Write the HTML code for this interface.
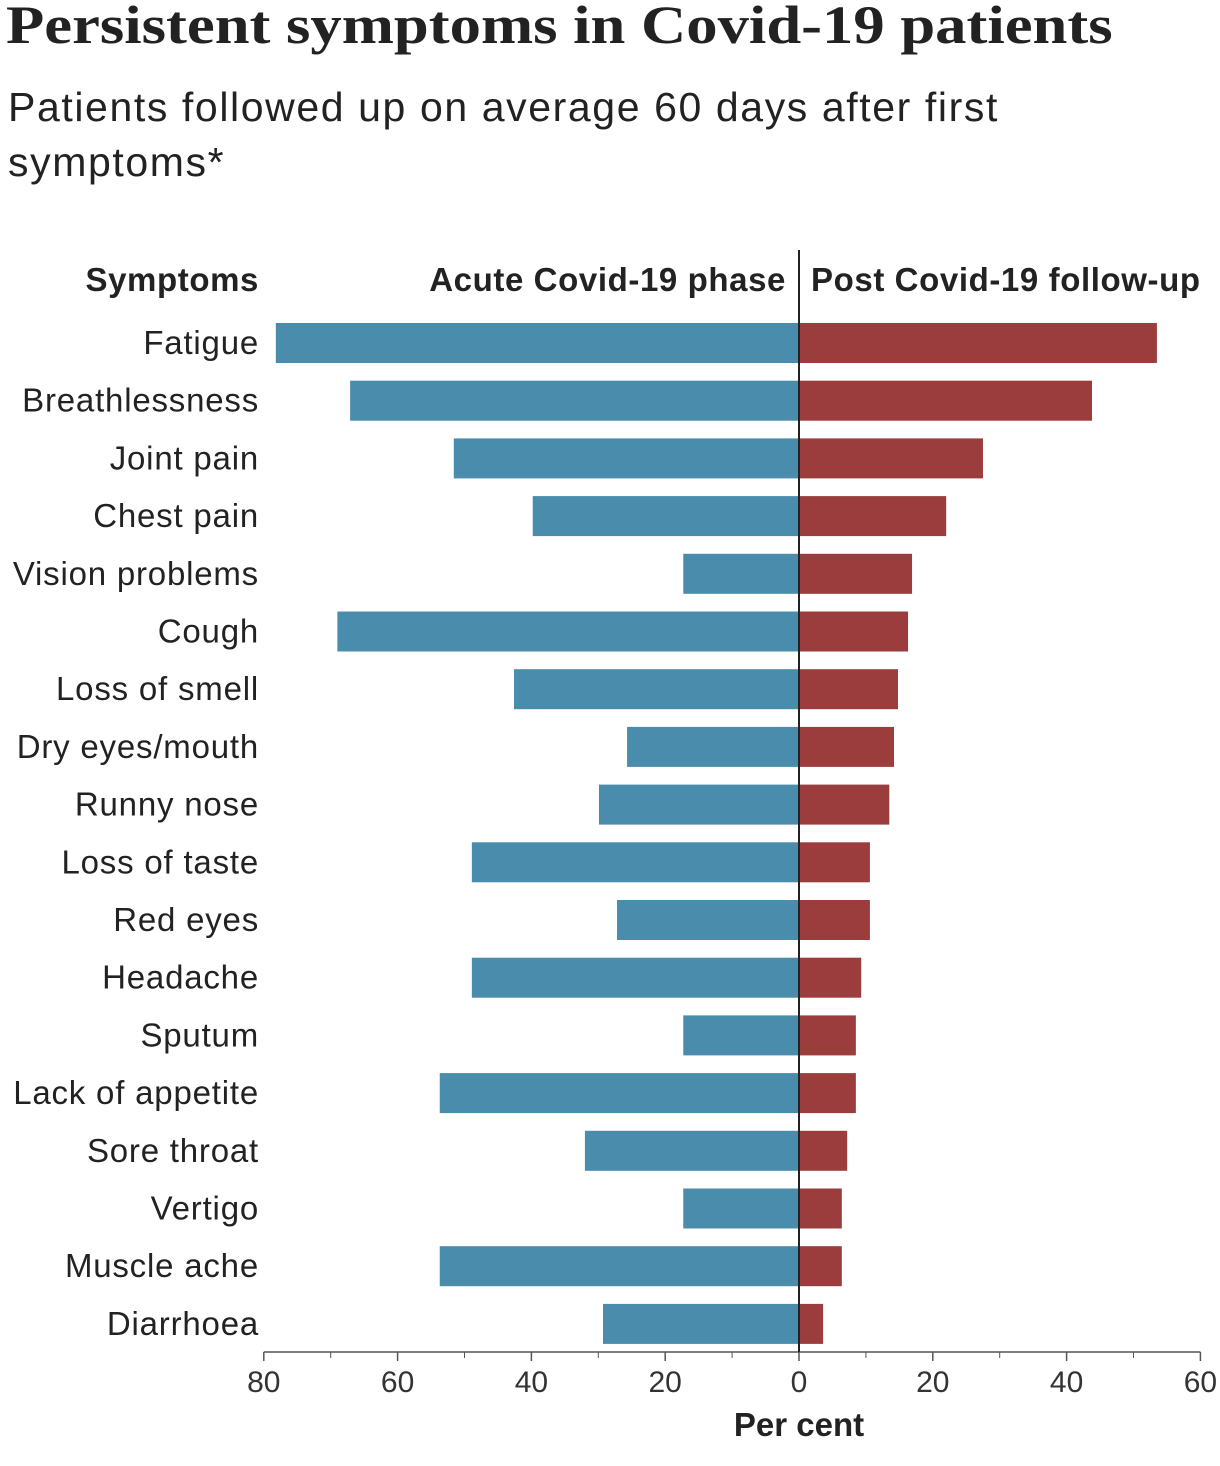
<!DOCTYPE html>
<html><head><meta charset="utf-8">
<style>
body{margin:0;background:#fff;width:1220px;height:1466px;overflow:hidden;font-family:"Liberation Sans",sans-serif;color:#222}
#title{position:absolute;left:6px;top:-6px;font-family:"Liberation Serif",serif;font-weight:bold;font-size:54px;color:#222;margin:0;white-space:nowrap;transform-origin:0 0;transform:scaleX(1.16)}
#subtitle{position:absolute;left:8px;top:80px;font-size:41px;letter-spacing:1.6px;line-height:55px;color:#222;width:1040px;margin:0}
svg{position:absolute;left:0;top:0}
</style></head><body>
<h1 id="title">Persistent symptoms in Covid-19 patients</h1>
<p id="subtitle">Patients followed up on average 60 days after first symptoms*</p>
<svg id="chart" width="1220" height="1466"></svg>
<script>
const categories=["Fatigue","Breathlessness","Joint pain","Chest pain","Vision problems","Cough","Loss of smell","Dry eyes/mouth","Runny nose","Loss of taste","Red eyes","Headache","Sputum","Lack of appetite","Sore throat","Vertigo","Muscle ache","Diarrhoea"];
const acute=[78.2,67.1,51.6,39.8,17.3,69,42.6,25.7,29.9,48.9,27.2,48.9,17.3,53.7,32,17.3,53.7,29.3];
const post=[53.5,43.8,27.5,22,16.9,16.3,14.8,14.2,13.5,10.6,10.6,9.3,8.5,8.5,7.2,6.4,6.4,3.6];
const tickVals=[-80,-60,-40,-20,0,20,40,60];
const tickLabels=["80","60","40","20","0","20","40","60"];
const minorTicks=[-70,-50,-30,-10,10,30,50];
const svg=document.getElementById('chart');
const NS="http://www.w3.org/2000/svg";
const x0=799,scale=6.69;
const xs=v=>x0+v*scale;
const ys=i=>343+i*57.7;
const bh=40;
function mk(t,a,txt){const e=document.createElementNS(NS,t);for(const k in a)e.setAttribute(k,a[k]);if(txt!==undefined)e.textContent=txt;svg.appendChild(e);return e;}
const h1=mk('text',{x:259,y:291,'text-anchor':'end','font-size':33,'letter-spacing':0.6,'font-weight':'bold',fill:'#222'},'Symptoms');

const h2=mk('text',{x:786,y:291,'text-anchor':'end','font-size':33,'letter-spacing':0.6,'font-weight':'bold',fill:'#222'},'Acute Covid-19 phase');

const h3=mk('text',{x:811,y:291,'text-anchor':'start','font-size':33,'letter-spacing':0.6,'font-weight':'bold',fill:'#222'},'Post Covid-19 follow-up');

categories.forEach((c,i)=>{
  const y=ys(i);
  const l=mk('text',{x:259,y:y+11,'text-anchor':'end','font-size':33,'letter-spacing':0.8,fill:'#222'},c);
  
  const a=mk('rect',{x:xs(-acute[i]),y:y-bh/2,width:acute[i]*scale,height:bh,fill:'#4a8cab'});
  
  const p=mk('rect',{x:x0,y:y-bh/2,width:post[i]*scale,height:bh,fill:'#9b3d3d'});
  
});
const ax=mk('line',{x1:xs(-80),x2:xs(60),y1:1352,y2:1352,stroke:'#555','stroke-width':1.5});

tickVals.forEach((v,i)=>{
  const t=mk('line',{x1:xs(v),x2:xs(v),y1:1352,y2:1361,stroke:'#555','stroke-width':1.5});
  
  const l=mk('text',{x:xs(v),y:1392,'text-anchor':'middle','font-size':30,fill:'#333'},tickLabels[i]);
  
});
minorTicks.forEach(v=>{
  const t=mk('line',{x1:xs(v),x2:xs(v),y1:1352,y2:1358,stroke:'#555','stroke-width':1});
  
});
const cl=mk('line',{x1:x0,x2:x0,y1:250,y2:1352,stroke:'#222','stroke-width':2});

const xt=mk('text',{x:x0,y:1436,'text-anchor':'middle','font-size':33,'font-weight':'bold',fill:'#222'},'Per cent');

</script>
</body></html>
